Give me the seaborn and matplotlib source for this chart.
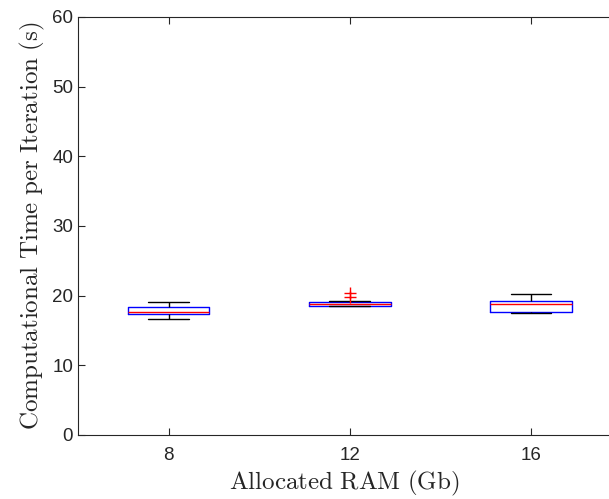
import matplotlib
matplotlib.use("Agg")
import matplotlib.pyplot as plt
import seaborn as sns
import pandas as pd

# Values
categories = ["8", "12", "16"]
ram_8 = [16.61, 17.41, 17.70, 18.33, 19.05]
ram_12 = [18.52, 18.56, 18.56, 18.56, 18.80, 18.80, 18.80,
          19.13, 19.13, 19.13, 19.23, 19.80, 20.38]
ram_16 = [17.51, 17.61, 18.76, 19.23, 20.20]
yticks = [0, 10, 20, 30, 40, 50, 60]

df = pd.DataFrame({
    "ram": ["8"] * len(ram_8) + ["12"] * len(ram_12) + ["16"] * len(ram_16),
    "time": ram_8 + ram_12 + ram_16,
})

sns.set_style("ticks")
plt.rcParams["font.family"] = ["Liberation Sans", "DejaVu Sans"]
plt.rcParams["mathtext.fontset"] = "cm"

fig = plt.figure(figsize=(6.09, 4.99), dpi=100)
ax = fig.add_axes([0.128, 0.1283, 0.875, 0.838])

sns.boxplot(
    data=df, x="ram", y="time", order=categories, ax=ax,
    fill=False, color="blue", saturation=1, width=0.45, whis=1.0,
    linewidth=1.0,
    boxprops=dict(color="blue", linewidth=1.0),
    whiskerprops=dict(color="black", linewidth=1.0),
    capprops=dict(color="black", linewidth=1.0),
    medianprops=dict(color="red", linewidth=1.0),
    flierprops=dict(marker="+", markeredgecolor="red", markerfacecolor="red",
                    markersize=8, markeredgewidth=1.0),
)

ax.set_xlim(-0.5, 2.44)
ax.set_ylim(0, 60)
ax.set_yticks(yticks)
ax.set_yticklabels([str(v) for v in yticks])
ax.tick_params(axis="both", direction="in", length=5, width=0.8,
               labelsize=13.5, top=True, right=False, colors="#262626")
ax.tick_params(axis="x", pad=9)
for s in ax.spines.values():
    s.set_linewidth(0.8)
    s.set_color("#262626")
ax.spines["right"].set_visible(False)

ax.set_xlabel(r"$\mathrm{Allocated\ RAM\ (Gb)}$", fontsize=18, labelpad=3)
ax.set_ylabel(r"$\mathrm{Computational\ Time\ per\ Iteration\ (s)}$",
              fontsize=18, labelpad=4)

fig.savefig("out.png", dpi=100)
